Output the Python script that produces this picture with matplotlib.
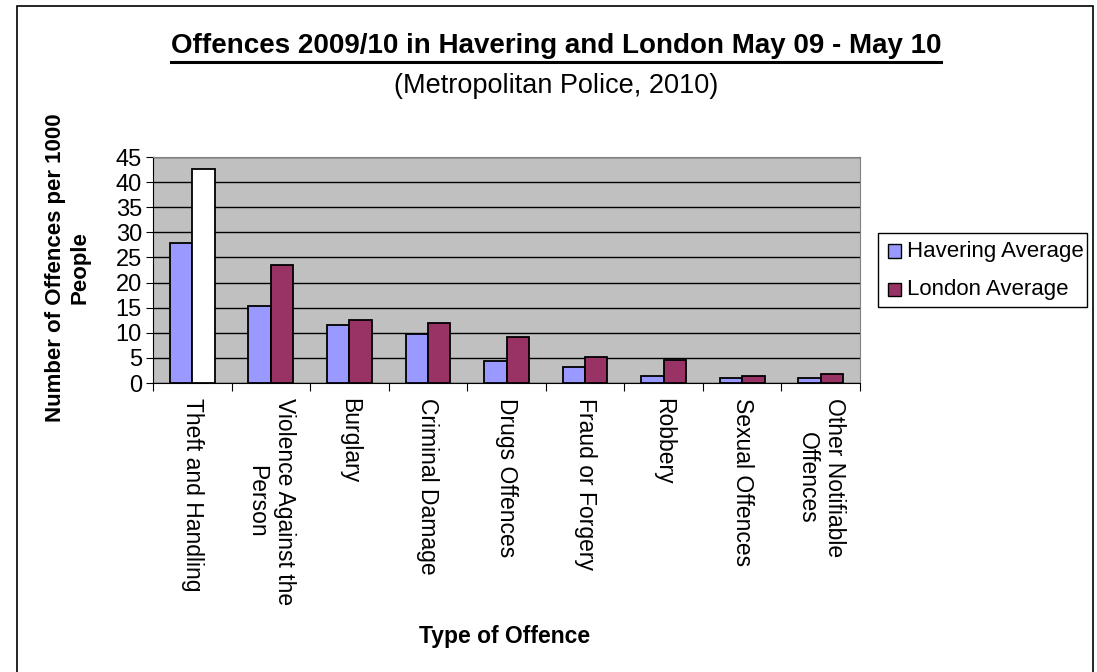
import numpy as np
import matplotlib
matplotlib.use("Agg")
import matplotlib.pyplot as plt
from matplotlib.patches import Rectangle
from matplotlib.lines import Line2D

plt.rcParams['font.family'] = ['Liberation Sans', 'DejaVu Sans']

# data
categories = ["Theft and Handling", "Violence Against the\nPerson", "Burglary",
              "Criminal Damage", "Drugs Offences", "Fraud or Forgery", "Robbery",
              "Sexual Offences", "Other Notifiable\nOffences"]
havering = [27.9, 15.4, 11.5, 9.8, 4.4, 3.1, 1.3, 0.9, 0.9]
london = [42.6, 23.5, 12.5, 11.9, 9.1, 5.2, 4.5, 1.3, 1.7]
yticks = [0, 5, 10, 15, 20, 25, 30, 35, 40, 45]
series_names = ["Havering Average", "London Average"]
series_colors = ["#9999FF", "#993366"]

W, H = 1097, 672
fig = plt.figure(figsize=(W / 100, H / 100), dpi=100)
fig.patch.set_facecolor("white")


def fx(px):
    return px / W


def fy(py):
    return (H - py) / H


# outer chart border
fig.patches.append(Rectangle((fx(17), -0.01), fx(1093) - fx(17), fy(6) + 0.01,
                             transform=fig.transFigure, fill=False,
                             edgecolor="black", linewidth=1.2))

ax = fig.add_axes([fx(153), fy(383), fx(860) - fx(153), fy(157) - fy(383)])
ax.set_facecolor("#C0C0C0")

x = np.arange(len(categories))
bw = 0.285
lon_colors = [series_colors[1]] * len(categories)
lon_colors[0] = "white"  # first London bar shows unfilled in the source
ax.bar(x - bw / 2, havering, bw, color=series_colors[0], edgecolor="black",
       linewidth=1.3, zorder=3)
ax.bar(x + bw / 2, london, bw, color=lon_colors, edgecolor="black", linewidth=1.3,
       zorder=3)

ax.set_xlim(-0.5, len(categories) - 0.5)
ax.set_ylim(0, 45)
ax.set_yticks(yticks)
ax.set_yticklabels([str(v) for v in yticks], fontsize=17)
ax.yaxis.grid(True, color="black", linewidth=1)
ax.set_axisbelow(True)
for s in ["top", "right"]:
    ax.spines[s].set_color("#808080")

ax.set_xticks(np.arange(len(categories) + 1) - 0.5)
ax.set_xticklabels([])
ax.tick_params(axis="x", length=6, color="black")
ax.tick_params(axis="y", length=5, color="black", pad=3)
for i, c in enumerate(categories):
    ax.text(i, -3.0, c, rotation=270, ha="center", va="top", fontsize=16.5,
            multialignment="center", linespacing=1.25)

fig.text(fx(68), fy(268), "Number of Offences per 1000\nPeople", rotation=90,
         ha="center", va="center", fontsize=16, fontweight="bold",
         multialignment="center", linespacing=1.2)
fig.text(fx(505), fy(637), "Type of Offence", ha="center", va="center",
         fontsize=16.5, fontweight="bold")

# titles
t = fig.text(fx(556), fy(46), "Offences 2009/10 in Havering and London May 09 - May 10",
             ha="center", va="center", fontsize=20, fontweight="bold")
fig.text(fx(556), fy(86), "(Metropolitan Police, 2010)", ha="center", va="center",
         fontsize=19.5)
fig.canvas.draw()
bb = t.get_window_extent(fig.canvas.get_renderer())
fig.lines.append(Line2D([bb.x0 / W, bb.x1 / W], [fy(62), fy(62)],
                        transform=fig.transFigure, color="black", linewidth=2.2))

# legend box, drawn by hand to match the source spacing
fig.patches.append(Rectangle((fx(878), fy(307)), fx(1087) - fx(878), fy(233) - fy(307),
                             transform=fig.transFigure, facecolor="white",
                             edgecolor="black", linewidth=1))
for row, (name, col) in enumerate(zip(series_names, series_colors)):
    yc = 251 + row * 38
    fig.patches.append(Rectangle((fx(888), fy(yc + 6.5)), fx(901) - fx(888),
                                 fy(yc - 6.5) - fy(yc + 6.5), transform=fig.transFigure,
                                 facecolor=col, edgecolor="black", linewidth=1))
    fig.text(fx(907), fy(yc), name, ha="left", va="center", fontsize=16)

fig.savefig("out.png", dpi=100)
